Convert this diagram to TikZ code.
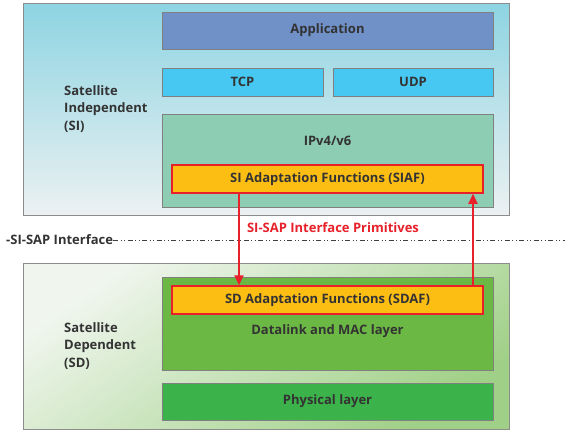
\documentclass[tikz,border=0pt]{standalone}
\usepackage{fontspec}
\setmainfont{Open Sans}
\usepackage{tikz}
\usetikzlibrary{arrows.meta, calc, positioning}
\definecolor{SI-top}{RGB}{141,212,226}
\definecolor{SI-bottom}{RGB}{236,241,242}
\definecolor{SD-light}{RGB}{240,246,238}
\definecolor{SD-dark}{RGB}{160,208,135}
\definecolor{App-blue}{RGB}{112,144,200}
\definecolor{TL-blue}{RGB}{70,200,242}
\definecolor{IP-green}{RGB}{140,205,180}
\definecolor{DL-green}{RGB}{108,184,68}
\definecolor{PHY-green}{RGB}{60,178,74}
\definecolor{AF-yellow}{RGB}{253,190,20}
\definecolor{SAP-red}{RGB}{232,32,42}
\colorlet{Txt-grey}{black!80}
\tikzset{%
    edge/.style={%
        SAP-red,
        line width=2pt,
        -{Triangle[length=10pt, width=9pt]},
    },
    segbox/.style={%
        rectangle,
        draw=black!45,
        minimum width=486pt,
    },
    layer/.style={%
        rectangle,
        draw=black!50,
        text=Txt-grey,
        font=\bfseries\fontsize{13}{14}\selectfont,
        inner sep=0pt,
    },
    adapt/.style={%
        rectangle,
        fill=AF-yellow,
        draw=SAP-red, line width=1.5pt,
        minimum width=311pt,
        minimum height=28pt,
        text=Txt-grey,
        font=\bfseries\fontsize{13}{14}\selectfont,
    },
    txt/.style={%
        text=Txt-grey,
        font=\bfseries\fontsize{13}{17.5}\selectfont,
        inner sep=0pt,
    },
}

\begin{document}
\begin{tikzpicture}[x=1pt, y=-1pt]
  \useasboundingbox (0,0) rectangle (565,431);

  % segments
  \node [segbox, minimum height=212pt, top color=SI-top, bottom color=SI-bottom] at (266,109) (si) {};
  \node [segbox, minimum height=166pt, top color=SD-light, bottom color=SD-dark, shading angle=35] at (266,346) (sd) {};

  \node [txt, anchor=west, align=left] at (64,109) (si_name) {Satellite\\Independent\\(SI)};
  \node [txt, anchor=west, align=left] at (64,346) (sd_name) {Satellite\\Dependent\\(SD)};

  % SI layers
  \node [layer, fill=App-blue, minimum width=331pt, minimum height=37pt] at (327.5,30.5) (app) {Application};
  \node [layer, fill=TL-blue, minimum width=161pt, minimum height=28pt] at (242.5,82) (tcp) {TCP};
  \node [layer, fill=TL-blue, minimum width=160pt, minimum height=28pt] at (413,82) (udp) {UDP};
  \node [layer, fill=IP-green, minimum width=331pt, minimum height=93pt] at (327.5,160.5) (ip) {};
  \node [txt] at (327.5,141) (ip_name) {IPv4/v6};
  \node [adapt] at (327.5,179) (siaf) {SI Adaptation Functions (SIAF)};

  % SD layers
  \node [layer, fill=DL-green, minimum width=331pt, minimum height=93pt] at (327.5,323.5) (dl) {};
  \node [adapt] at (327.5,300) (sdaf) {SD Adaptation Functions (SDAF)};
  \node [txt] at (327.5,331) (dl_name) {Datalink and MAC layer};
  \node [layer, fill=PHY-green, minimum width=331pt, minimum height=37pt] at (327.5,401.5) (phy) {Physical layer};

  % interface
  \node [txt, anchor=west] at (6,240) (sap) {-SI-SAP Interface};
  \coordinate (sap_end) at (565,240);
  \draw [black!75, line width=0.8pt, dash pattern=on 5pt off 2.5pt on 1pt off 2.5pt on 1pt off 2.5pt] (sap.east) -- (sap_end);
  \node [txt, text=SAP-red] at (333,228) (prim) {SI-SAP Interface Primitives};

  \draw[edge] ([xshift=-88.5pt]siaf.south) -- ([xshift=-88.5pt]sdaf.north);
  \draw[edge] ([xshift=145.5pt]sdaf.north) -- ([xshift=145.5pt]siaf.south);
\end{tikzpicture}
\end{document}
